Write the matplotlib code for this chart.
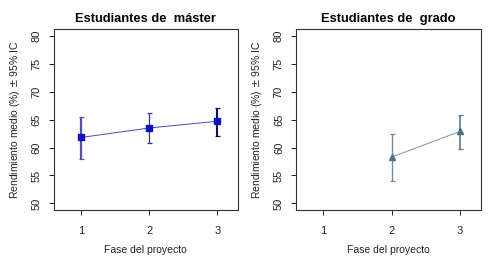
import numpy as np
import matplotlib.pyplot as plt

plt.rcParams['font.family'] = ['Liberation Sans', 'DejaVu Sans']

# Estudiantes de máster
fase_m = [1, 2, 3]
media_m = [61.8, 63.5, 64.7]
sup_m = [65.5, 66.1, 67.1]
inf_m = [58.0, 60.9, 62.0]

# Estudiantes de grado
fase_g = [2, 3]
media_g = [58.3, 62.9]
sup_g = [62.5, 65.9]
inf_g = [54.1, 59.8]

xticks = [1, 2, 3]
yticks = [50, 55, 60, 65, 70, 75, 80]

fig = plt.figure(figsize=(4.89, 2.62), dpi=100)
ax1 = fig.add_axes([0.110, 0.198, 0.376, 0.691])
ax2 = fig.add_axes([0.605, 0.198, 0.378, 0.691])


def panel(ax, x, y, lo, hi, col, lcol, mk, ms, title, ecols, ewid):
    x = np.array(x)
    y = np.array(y)
    ax.plot(x, y, color=lcol, lw=0.7, zorder=2)
    for i in range(len(x)):
        ax.errorbar(x[i], y[i], yerr=[[y[i] - lo[i]], [hi[i] - y[i]]],
                    fmt='none', ecolor=ecols[i], elinewidth=ewid[i],
                    capsize=1.8, capthick=0.9, zorder=3)
    ax.plot(x, y, ls='none', marker=mk, ms=ms, color=col, zorder=4)
    ax.set_xlim(0.6, 3.3)
    ax.set_ylim(48.8, 81.2)
    ax.set_xticks(xticks)
    ax.set_yticks(yticks)
    ax.tick_params(direction='out', length=3.6, width=0.7, labelsize=8,
                   colors='#222222')
    ax.tick_params(axis='x', pad=8)
    ax.tick_params(axis='y', pad=5)
    for lab in ax.get_yticklabels():
        lab.set_rotation(90)
        lab.set_va('center')
    for s in ax.spines.values():
        s.set_linewidth(0.8)
        s.set_color('#333333')
    ax.set_title(title, fontsize=9.3, fontweight='bold', pad=5)
    ax.set_xlabel('Fase del proyecto', fontsize=7.5, labelpad=6, color='#222222')
    ax.set_ylabel('Rendimiento medio (%) $\\pm$ 95% IC', fontsize=7.5,
                  labelpad=7, color='#222222')


panel(ax1, fase_m, media_m, inf_m, sup_m, '#1010c8', '#4646c8', 's', 4.5,
      'Estudiantes de  máster',
      ['#5050b0', '#303090', '#101060'], [1.6, 0.9, 1.5])
panel(ax2, fase_g, media_g, inf_g, sup_g, '#4f6f88', '#7a96aa', '^', 4.5,
      'Estudiantes de  grado',
      ['#6f8ca0', '#5a7a90'], [1.0, 1.2])

fig.savefig('out.png', dpi=100)
